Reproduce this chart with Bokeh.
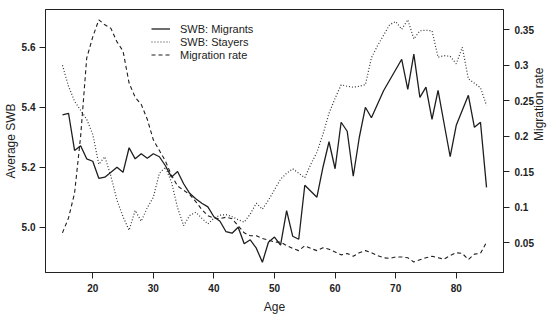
import math

from bokeh.plotting import figure
from bokeh.models import Range1d, LinearAxis, FixedTicker, Legend, LegendItem
from bokeh.embed import file_html
from bokeh.resources import INLINE

# Age of respondents
ages = list(range(15, 86))

# Average subjective well-being of movers, by age
swb_migrants = [
    5.375, 5.38, 5.256, 5.272, 5.228, 5.22, 5.163, 5.167, 5.183, 5.2,
    5.183, 5.265, 5.228, 5.245, 5.23, 5.245, 5.235, 5.205, 5.167, 5.186,
    5.145, 5.113, 5.095, 5.08, 5.068, 5.035, 5.02, 4.985, 4.98, 5.0,
    4.945, 4.958, 4.93, 4.883, 4.95, 4.967, 4.94, 5.055, 4.97, 4.96,
    5.14, 5.12, 5.1, 5.2, 5.285, 5.195, 5.35, 5.32, 5.17, 5.3,
    5.40, 5.365, 5.41, 5.455, 5.49, 5.525, 5.56, 5.46, 5.577, 5.433,
    5.467, 5.36, 5.456, 5.345, 5.235, 5.34, 5.39, 5.44, 5.333, 5.35,
    5.133,
]

# Average subjective well-being of non-movers, by age
swb_stayers = [
    5.54, 5.47, 5.42, 5.39, 5.36, 5.31, 5.21, 5.235, 5.17, 5.09,
    5.035, 4.99, 5.056, 5.02, 5.065, 5.10, 5.18, 5.2, 5.15, 5.065,
    5.005, 5.039, 5.05, 5.03, 5.011, 5.03, 5.04, 5.042, 5.035, 5.025,
    5.017, 5.044, 5.08, 5.06, 5.09, 5.125, 5.16, 5.18, 5.195, 5.18,
    5.165, 5.21, 5.25, 5.31, 5.38, 5.43, 5.475, 5.47, 5.467, 5.47,
    5.475, 5.565, 5.605, 5.64, 5.675, 5.686, 5.66, 5.692, 5.628, 5.655,
    5.657, 5.655, 5.567, 5.572, 5.57, 5.545, 5.6, 5.495, 5.48, 5.465,
    5.406,
]

# Share of each age group that moved
migration_rate = [
    0.064, 0.085, 0.12, 0.2, 0.31, 0.34, 0.364, 0.357, 0.352, 0.333,
    0.32, 0.275, 0.255, 0.245, 0.224, 0.195, 0.18, 0.165, 0.145, 0.13,
    0.124, 0.118, 0.108, 0.097, 0.088, 0.085, 0.084, 0.086, 0.084, 0.074,
    0.064, 0.06, 0.06, 0.056, 0.054, 0.051, 0.051, 0.046, 0.042, 0.039,
    0.046, 0.042, 0.039, 0.043, 0.041, 0.037, 0.033, 0.035, 0.031, 0.036,
    0.039, 0.036, 0.032, 0.029, 0.028, 0.03, 0.03, 0.029, 0.023, 0.026,
    0.029, 0.031, 0.029, 0.027, 0.032, 0.036, 0.035, 0.0265, 0.034, 0.035,
    0.051,
]

age_ticks = [20, 30, 40, 50, 60, 70, 80]
swb_ticks = [5.0, 5.2, 5.4, 5.6]
swb_tick_labels = ["5.0", "5.2", "5.4", "5.6"]
rate_ticks = [0.05, 0.1, 0.15, 0.2, 0.25, 0.3, 0.35]
rate_tick_labels = ["0.05", "0.1", "0.15", "0.2", "0.25", "0.3", "0.35"]

FONT = "Liberation Sans"

p = figure(
    width=555, height=316,
    output_backend="svg", toolbar_location=None,
    x_range=Range1d(12.2, 87.8),
    y_range=Range1d(4.849, 5.726),
    min_border_left=45, min_border_right=49,
    min_border_top=9, min_border_bottom=44,
    background_fill_color="white", border_fill_color="white",
)
p.extra_y_ranges = {"rate": Range1d(0.00817, 0.3786)}
p.outline_line_color = "#222222"
p.outline_line_width = 1
p.xgrid.visible = False
p.ygrid.visible = False

r_m = p.line(ages, swb_migrants, line_color="#1e1e1e", line_width=1.3)
r_s = p.line(ages, swb_stayers, line_color="#333333", line_width=1.2,
             line_dash="1 2")
r_r = p.line(ages, migration_rate, y_range_name="rate",
             line_color="#1e1e1e", line_width=1.1, line_dash="4 3")

right_axis = LinearAxis(y_range_name="rate")
p.add_layout(right_axis, "right")

p.xaxis.ticker = FixedTicker(ticks=age_ticks)
p.yaxis[0].ticker = FixedTicker(ticks=swb_ticks)
p.yaxis[0].major_label_overrides = dict(zip(swb_ticks, swb_tick_labels))
right_axis.ticker = FixedTicker(ticks=rate_ticks)
right_axis.major_label_overrides = dict(zip(rate_ticks, rate_tick_labels))

p.xaxis.axis_label = "Age"
p.yaxis[0].axis_label = "Average SWB"
right_axis.axis_label = "Migration rate"
# read the right-hand label bottom-to-top, like the left one
right_axis.axis_label_orientation = math.pi / 2

for ax in [p.xaxis[0], p.yaxis[0], right_axis]:
    ax.axis_line_color = "#222222"
    ax.major_tick_line_color = "#222222"
    ax.major_tick_out = 6
    ax.major_tick_in = 0
    ax.minor_tick_line_color = None
    ax.major_label_text_font = FONT
    ax.major_label_text_font_size = "10px"
    ax.major_label_text_font_style = "bold"
    ax.major_label_text_color = "#222222"
    ax.axis_label_text_font = FONT
    ax.axis_label_text_font_size = "12px"
    ax.axis_label_text_font_style = "normal"
    ax.axis_label_text_color = "#222222"

p.xaxis.major_label_standoff = 5
p.xaxis.axis_label_standoff = 5
p.yaxis[0].major_label_standoff = 4
p.yaxis[0].axis_label_standoff = 1
right_axis.major_label_standoff = 5
right_axis.axis_label_standoff = 2

legend = Legend(
    items=[
        LegendItem(label="SWB: Migrants", renderers=[r_m]),
        LegendItem(label="SWB: Stayers", renderers=[r_s]),
        LegendItem(label="Migration rate", renderers=[r_r]),
    ],
    location=(106, 211),
    orientation="vertical",
    border_line_color=None,
    background_fill_alpha=0,
    padding=0, margin=0, spacing=0,
    glyph_width=19, glyph_height=13,
    label_height=13, label_standoff=10,
    label_text_font=FONT, label_text_font_size="11px",
    label_text_color="#222222",
)
p.add_layout(legend)

open("out.html", "w").write(file_html(p, INLINE))
